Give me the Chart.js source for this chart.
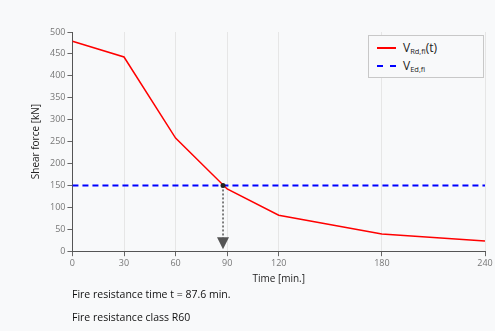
<!DOCTYPE html>
<html>
<head>
<meta charset="utf-8">
<script src="https://cdn.jsdelivr.net/npm/chart.js@4"></script>
<style>
  body { margin: 0; background: #f8f9fa; font-family: "Open Sans", sans-serif; }
  #wrap { position: relative; width: 495px; height: 331px; }
  #chart-box { position: absolute; left: 0; top: 0; width: 495px; height: 289px; }
  .legend {
    position: absolute; left: 368px; top: 35px; width: 116px; height: 43px;
    border: 1px solid #c8c8c8; background: #f8f9fa; box-sizing: border-box;
    font-size: 12px; color: #222;
  }
  .legend .row { position: absolute; left: 8px; display: flex; align-items: center; }
  .legend .sw { width: 19px; height: 0; margin-right: 7px; }
  .legend sub { font-size: 7.5px; vertical-align: -2px; }
  .note { position: absolute; left: 72px; font-size: 10.5px; color: #111; }
</style>
</head>
<body>
<div id="wrap">
  <div id="chart-box"><canvas id="chart"></canvas></div>
  <div class="legend">
    <div class="row" style="top:3px"><span class="sw" style="border-top:2px solid #ff0000"></span><span>V<sub>Rd,fi</sub>(t)</span></div>
    <div class="row" style="top:21px"><span class="sw" style="border-top:2px dashed #0000ff"></span><span>V<sub>Ed,fi</sub></span></div>
  </div>
  <div class="note" style="top:287px">Fire resistance time t = 87.6 min.</div>
  <div class="note" style="top:310px">Fire resistance class R60</div>
</div>
<script>
// values
const times = [0, 30, 60, 90, 120, 180, 240];
const shearRd = [479, 443, 258, 142, 82, 39, 23];
const shearEd = 150;
const fireTime = 87.6;
const xTicks = [0, 30, 60, 90, 120, 180, 240];

const arrowPlugin = {
    id: 'arrow',
    afterDatasetsDraw(chart) {
        const { ctx, scales } = chart;
        const x = scales.x.getPixelForValue(fireTime);
        const y0 = scales.y.getPixelForValue(shearEd);
        const y1 = scales.y.getPixelForValue(0);
        ctx.save();
        ctx.strokeStyle = '#555';
        ctx.lineWidth = 1.5;
        ctx.setLineDash([2, 2]);
        ctx.beginPath();
        ctx.moveTo(x, y0);
        ctx.lineTo(x, y1 - 13);
        ctx.stroke();
        ctx.setLineDash([]);
        ctx.fillStyle = '#555';
        ctx.beginPath();
        ctx.moveTo(x - 6, y1 - 14);
        ctx.lineTo(x + 6, y1 - 14);
        ctx.lineTo(x, y1 - 2);
        ctx.closePath();
        ctx.fill();
        // intersection dot
        ctx.fillStyle = '#222';
        ctx.beginPath();
        ctx.arc(x, y0, 2.5, 0, Math.PI * 2);
        ctx.fill();
        ctx.restore();
    }
};

new Chart(document.getElementById('chart'), {
    type: 'scatter',
    data: {
        datasets: [
            {
                data: times.map((t, i) => ({ x: t, y: shearRd[i] })),
                showLine: true,
                borderColor: '#ff0000',
                borderWidth: 1.5,
                pointRadius: 0,
                tension: 0
            },
            {
                data: [{ x: 0, y: shearEd }, { x: 240, y: shearEd }],
                showLine: true,
                borderColor: '#0000ff',
                borderWidth: 2,
                borderDash: [6, 4],
                pointRadius: 0
            }
        ]
    },
    options: {
        responsive: true,
        maintainAspectRatio: false,
        animation: false,
        layout: { padding: { top: 32, right: 10, left: 26, bottom: 0 } },
        plugins: { legend: { display: false }, tooltip: { enabled: false } },
        scales: {
            x: {
                type: 'linear',
                min: 0, max: 240,
                afterBuildTicks: axis => { axis.ticks = xTicks.map(v => ({ value: v })); },
                grid: { color: '#e6e6e6', tickLength: 5, tickColor: '#666', drawOnChartArea: true },
                border: { color: '#555' },
                ticks: { color: '#777', font: { size: 9, family: 'Open Sans' }, maxRotation: 0, padding: 2 },
                title: { display: true, text: 'Time [min.]', color: '#222', font: { size: 10, family: 'Open Sans' }, padding: { top: 2 } }
            },
            y: {
                min: 0, max: 500,
                ticks: { stepSize: 50, color: '#777', font: { size: 9, family: 'Open Sans' }, padding: 2 },
                grid: { drawOnChartArea: false, tickLength: 5, tickColor: '#666' },
                border: { color: '#555' },
                title: { display: true, text: 'Shear force [kN]', color: '#222', font: { size: 10, family: 'Open Sans' }, padding: { bottom: 6 } }
            }
        }
    },
    plugins: [arrowPlugin]
});
</script>
</body>
</html>
